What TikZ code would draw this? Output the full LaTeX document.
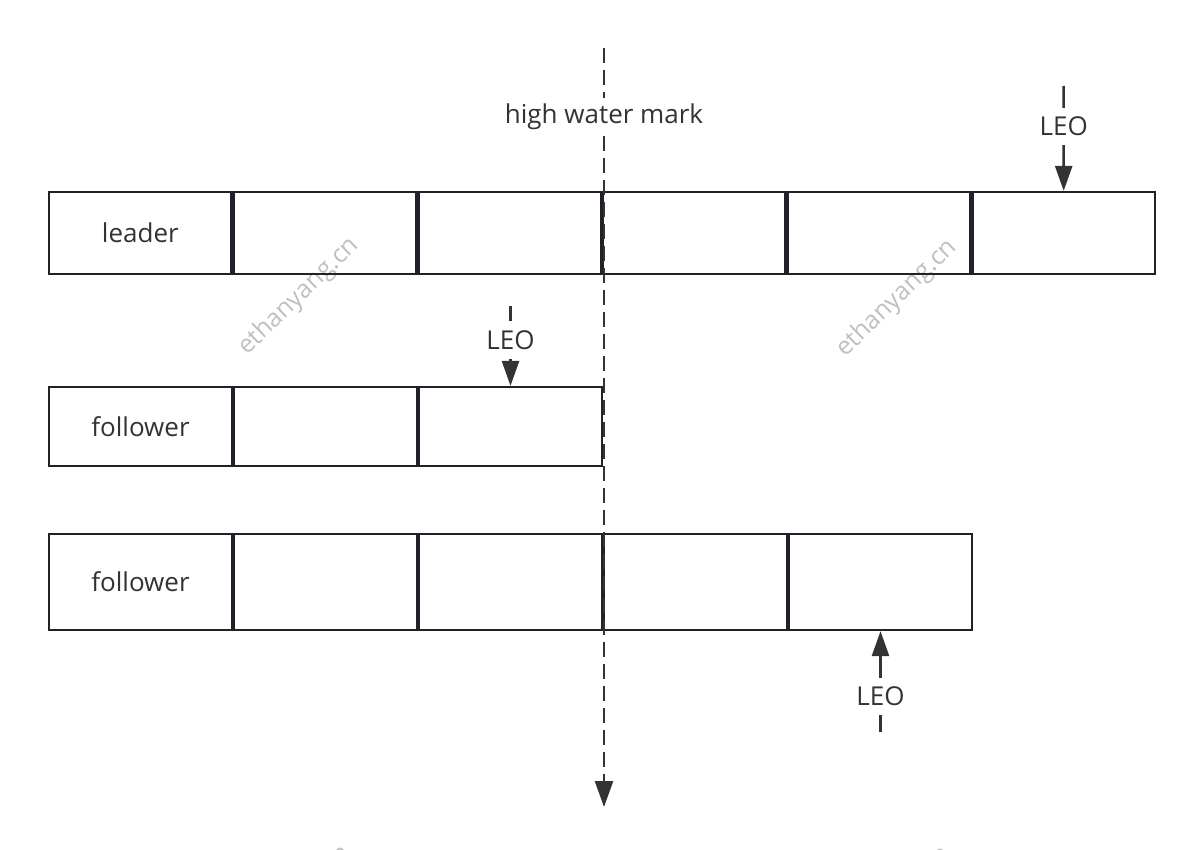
\documentclass[tikz,border=0pt]{standalone}
\usepackage{fontspec}
\setmainfont{Open Sans}
\usetikzlibrary{arrows.meta}
\definecolor{boxline}{RGB}{31,35,41}
\definecolor{ink}{RGB}{51,51,51}
\definecolor{wmark}{RGB}{192,192,192}
\tikzset{
  cellbox/.style={draw=boxline, line width=2.2pt, rectangle, inner sep=0pt, text=ink,
    font=\fontsize{26}{30}\selectfont},
  lcell/.style={cellbox, minimum width=182.47pt, minimum height=82pt},
  fcell/.style={cellbox, minimum width=182.8pt, minimum height=79pt},
  gcell/.style={cellbox, minimum width=182.8pt, minimum height=96pt},
  leoarrow/.style={draw=ink, line width=2.5pt, -{Triangle[length=25pt,width=17pt]}},
  hwmline/.style={draw=ink, line width=2.5pt, dash pattern=on 15pt off 7pt,
    -{Triangle[length=26pt,width=18pt]}},
  lbl/.style={fill=white, text=ink, font=\fontsize{26}{30}\selectfont},
  wm/.style={text=wmark, font=\fontsize{25}{30}\selectfont, inner sep=0pt,
    anchor=base west, rotate=44}
}
\begin{document}
\begin{tikzpicture}[x=1pt,y=-1pt]
\useasboundingbox (0,0) rectangle (1204,850);
\clip (0,0) rectangle (1204,850);
\fill[white] (0,0) rectangle (1204,850);
% watermarks
\node[wm] (w1) at (247,356) {ethanyang.cn};
\node[wm] (w2) at (845,358) {ethanyang.cn};
\node[wm] (w3) at (239,964) {ethanyang.cn};
\node[wm] (w4) at (839,965) {ethanyang.cn};
% leader row
\foreach \i in {1,...,6} {
  \node[lcell] (L\i) at ({48+(\i-0.5)*184.67},233) {};
}
\node[text=ink, font=\fontsize{26}{30}\selectfont] at (L1.center) {leader};
% follower 1
\foreach \i in {1,...,3} {
  \node[fcell] (F\i) at ({48+(\i-0.5)*185},426.5) {};
}
\node[text=ink, font=\fontsize{26}{30}\selectfont] at (F1.center) {follower};
% follower 2
\foreach \i in {1,...,5} {
  \node[gcell] (G\i) at ({48+(\i-0.5)*185},582) {};
}
\node[text=ink, font=\fontsize{26}{30}\selectfont] at (G1.center) {follower};
% high water mark
\coordinate (hwmTop) at (604,48);
\coordinate (hwmBot) at (604,807);
\draw[hwmline] (hwmTop) -- node[lbl, pos=0.0905, inner sep=6pt] {high water mark} (hwmBot);
% LEO arrows
\coordinate (leoA) at (1063.7,86);
\draw[leoarrow] (leoA) -- node[lbl, pos=0.385, inner xsep=4pt, inner ysep=8.7pt] {LEO} (L6.north);
\coordinate (leoB) at (510.5,306);
\draw[leoarrow] (leoB) -- node[lbl, pos=0.43, inner xsep=4pt, inner ysep=9.5pt] {LEO} (F3.north);
\coordinate (leoC) at (880.5,732);
\draw[leoarrow] (leoC) -- node[lbl, pos=0.35, inner xsep=4pt, inner ysep=8.7pt] {LEO} (G5.south);
\end{tikzpicture}
\end{document}
